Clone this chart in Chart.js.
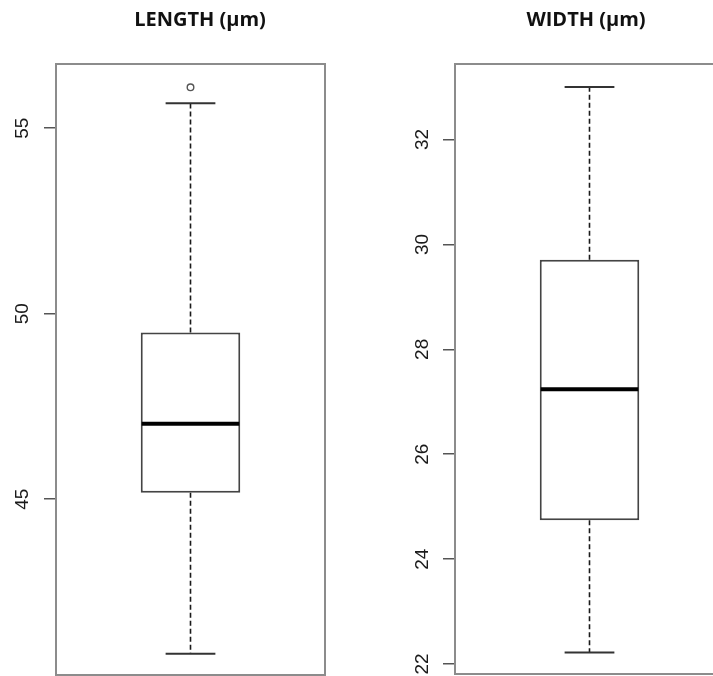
<!DOCTYPE html>
<html>
<head>
<meta charset="utf-8">
<script src="https://cdn.jsdelivr.net/npm/chart.js@4.4.1/dist/chart.umd.min.js"></script>
<style>
html,body{margin:0;padding:0;background:#fff;}
#wrap{position:relative;width:713px;height:676px;overflow:hidden;background:#fff;}
canvas{position:absolute;top:0;}
</style>
</head>
<body>
<div id="wrap">
  <canvas id="lenChart" width="400" height="676" style="left:0px"></canvas>
  <canvas id="widChart" width="374" height="676" style="left:399px"></canvas>
</div>
<script>
// ---- data ----
const lengthTitle = 'LENGTH (µm)';
const widthTitle = 'WIDTH (µm)';
// five-number summaries: [lower whisker, Q1, median, Q3, upper whisker]
const lengthStats = [40.83, 45.17, 47.03, 49.49, 55.67];
const lengthOutliers = [56.1];
const widthStats = [22.22, 24.74, 27.24, 29.71, 33.0];
const widthOutliers = [];
// tick labels
const lengthTicks = [45, 50, 55];
const widthTicks = [22, 24, 26, 28, 30, 32];
// axis ranges
const lengthRange = [40.26, 56.73];
const widthRange = [21.81, 33.44];

const boxPlugin = {
  id: 'boxWhiskers',
  afterDatasetsDraw(chart, args, opts) {
    const {ctx, chartArea} = chart;
    const y = chart.scales.y;
    const bar = chart.getDatasetMeta(0).data[0];
    const cx = bar.x;
    const hw = bar.width / 2;
    const [mn, q1, md, q3, mx] = opts.stats;
    const py = v => y.getPixelForValue(v);
    const seg = (x1, y1, x2, y2) => { ctx.beginPath(); ctx.moveTo(x1, y1); ctx.lineTo(x2, y2); ctx.stroke(); };
    ctx.save();
    // dashed whiskers
    ctx.strokeStyle = '#1a1a1a';
    ctx.lineWidth = 1.6;
    ctx.setLineDash([5, 3]);
    seg(cx, py(q3), cx, py(mx));
    seg(cx, py(q1), cx, py(mn));
    ctx.setLineDash([]);
    // staples
    ctx.strokeStyle = '#333';
    ctx.lineWidth = 2;
    seg(cx - hw / 2, py(mx), cx + hw / 2, py(mx));
    seg(cx - hw / 2, py(mn), cx + hw / 2, py(mn));
    // median
    ctx.strokeStyle = '#000';
    ctx.lineWidth = 4;
    seg(cx - hw + 1, py(md), cx + hw - 1, py(md));
    // outliers
    ctx.strokeStyle = '#555';
    ctx.lineWidth = 1.4;
    for (const o of opts.outliers) {
      ctx.beginPath();
      ctx.arc(cx, py(o), 3.3, 0, Math.PI * 2);
      ctx.stroke();
    }
    // plot frame
    ctx.strokeStyle = '#8c8c8c';
    ctx.lineWidth = 2;
    ctx.strokeRect(chartArea.left, chartArea.top, chartArea.right - chartArea.left, chartArea.bottom - chartArea.top);
    ctx.restore();
  }
};

function makeBox(id, title, stats, outliers, ticks, range, rightSpace, bottomPad, tickPad) {
  return new Chart(document.getElementById(id), {
    type: 'bar',
    data: {
      labels: [title],
      datasets: [{
        data: [[stats[1], stats[3]]],
        backgroundColor: '#ffffff',
        borderColor: '#444444',
        borderWidth: 2,
        borderSkipped: false,
        categoryPercentage: 1,
        barPercentage: 0.37
      }]
    },
    options: {
      responsive: false,
      animation: false,
      devicePixelRatio: 1,
      layout: {padding: {left: 0, right: 0, top: 0, bottom: bottomPad}},
      plugins: {
        legend: {display: false},
        tooltip: {enabled: false},
        title: {
          display: true,
          text: title,
          color: '#111',
          font: {family: "'Open Sans', sans-serif", weight: 'bold', size: 20, lineHeight: 1.2},
          padding: {top: 8.3, bottom: 31.7}
        },
        boxWhiskers: {stats: stats, outliers: outliers}
      },
      scales: {
        x: {display: false},
        y: {
          min: range[0],
          max: range[1],
          afterBuildTicks: s => { s.ticks = ticks.map(v => ({value: v})); },
          afterFit: s => { s.width = 56; s.paddingTop = 0; s.paddingBottom = 0; },
          grid: {drawOnChartArea: false, drawTicks: true, tickLength: 12, color: '#555', lineWidth: 1.5},
          border: {display: false},
          ticks: {
            autoSkip: false,
            minRotation: 90,
            maxRotation: 90,
            crossAlign: 'center',
            padding: tickPad,
            color: '#1a1a1a',
            font: {family: "'Liberation Sans', Arial, sans-serif", size: 19}
          }
        },
        yR: {
          position: 'right',
          display: true,
          min: 0, max: 1,
          grid: {display: false, drawTicks: false},
          border: {display: false},
          ticks: {display: false},
          afterFit: s => { s.width = rightSpace; s.paddingTop = 0; s.paddingBottom = 0; }
        }
      }
    },
    plugins: [boxPlugin]
  });
}

makeBox('lenChart', lengthTitle, lengthStats, lengthOutliers, lengthTicks, lengthRange, 75, 1, 11);
makeBox('widChart', widthTitle, widthStats, widthOutliers, widthTicks, widthRange, 49, 2, 10);
</script>
</body>
</html>
